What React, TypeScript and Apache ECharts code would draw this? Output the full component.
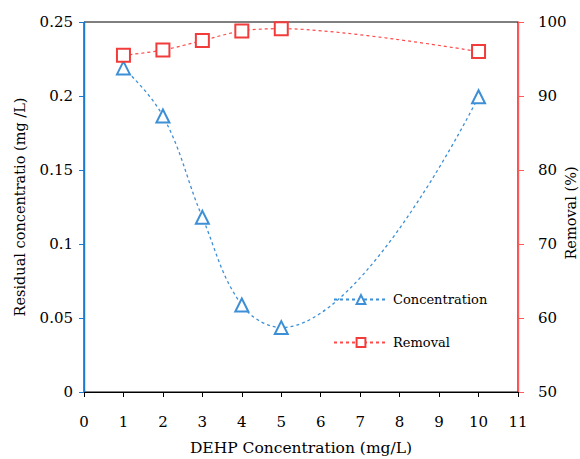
import React, { useEffect, useRef } from "react";
import * as echarts from "echarts";

const xValues = [1, 2, 3, 4, 5, 10];
const concentration = [0.219, 0.1865, 0.118, 0.0588, 0.0435, 0.1995];
const removal = [95.5, 96.2, 97.5, 98.8, 99.1, 96.0];

const FONT = "DejaVu Serif";
const BLUE = "#3d8fd6";
const RED = "#f23c3c";

export default function App() {
  const ref = useRef<HTMLDivElement>(null);
  useEffect(() => {
    document.body.style.margin = "0";
    document.body.style.overflow = "hidden";
    if (!ref.current) return;
    const chart = echarts.init(ref.current, undefined, { renderer: "svg" });
    chart.setOption({
      animation: false,
      backgroundColor: "#fff",
      textStyle: { fontFamily: FONT },
      grid: {
        left: 84,
        right: 62,
        top: 22,
        bottom: 67,
        outerBoundsMode: "none",
        containLabel: false,
        show: true,
        borderColor: "#000",
        borderWidth: 1,
        backgroundColor: "transparent",
      },
      legend: {
        orient: "vertical",
        left: 333,
        top: 293,
        padding: 0,
        itemWidth: 54,
        itemHeight: 11,
        itemGap: 30,
        textStyle: { fontFamily: FONT, fontSize: 13, color: "#000" },
        data: ["Concentration", "Removal"],
      },
      graphic: [
        {
          type: "text",
          x: 571,
          y: 213,
          rotation: Math.PI / 2,
          style: {
            text: "Removal (%)",
            fontFamily: FONT,
            fontSize: 14.5,
            fill: "#000",
            align: "center",
            verticalAlign: "middle",
          },
        },
      ],
      xAxis: {
        type: "value",
        min: 0,
        max: 11,
        interval: 1,
        name: "DEHP Concentration (mg/L)",
        nameLocation: "middle",
        nameGap: 48,
        nameTextStyle: { fontFamily: FONT, fontSize: 15.5, color: "#000" },
        axisLine: { lineStyle: { color: "#000", width: 1 } },
        axisTick: { show: true, inside: false, length: 5, lineStyle: { color: "#000" } },
        axisLabel: { fontFamily: FONT, fontSize: 15, color: "#000", margin: 22 },
        splitLine: { show: false },
      },
      yAxis: [
        {
          type: "value",
          min: 0,
          max: 0.25,
          interval: 0.05,
          position: "left",
          name: "Residual concentratio (mg /L)",
          nameLocation: "middle",
          nameGap: 57,
          nameTextStyle: { fontFamily: FONT, fontSize: 14.5, color: "#000" },
          axisLine: { show: true, lineStyle: { color: "#1a7ad0", width: 1.4 } },
          axisTick: { show: true, inside: false, length: 5, lineStyle: { color: "#1a7ad0" } },
          axisLabel: { fontFamily: FONT, fontSize: 15, color: "#000", margin: 11 },
          splitLine: { show: false },
        },
        {
          type: "value",
          min: 50,
          max: 100,
          interval: 10,
          position: "right",
          axisLine: { show: true, lineStyle: { color: "#ff5a5a", width: 1.4 } },
          axisTick: { show: true, inside: false, length: 6, lineStyle: { color: "#ff5a5a" } },
          axisLabel: { fontFamily: FONT, fontSize: 15, color: "#000", margin: 20 },
          splitLine: { show: false },
        },
      ],
      series: [
        {
          name: "Concentration",
          type: "line",
          yAxisIndex: 0,
          smooth: 0.4,
          data: xValues.map((x, i) => [x, concentration[i]]),
          symbol: "emptyTriangle",
          symbolSize: 13,
          itemStyle: { color: BLUE, borderColor: BLUE, borderWidth: 1.2 },
          lineStyle: { color: BLUE, width: 1.3, type: [3, 3] },
        },
        {
          name: "Removal",
          type: "line",
          yAxisIndex: 1,
          smooth: 0.3,
          data: xValues.map((x, i) => [x, removal[i]]),
          symbol: "emptyRect",
          symbolSize: 13,
          itemStyle: { color: RED, borderColor: RED, borderWidth: 1.2 },
          lineStyle: { color: "#ff4a4a", width: 1.2, type: [3, 3] },
        },
      ],
    });
    return () => chart.dispose();
  }, []);
  return <div ref={ref} style={{ width: 580, height: 459 }} />;
}
